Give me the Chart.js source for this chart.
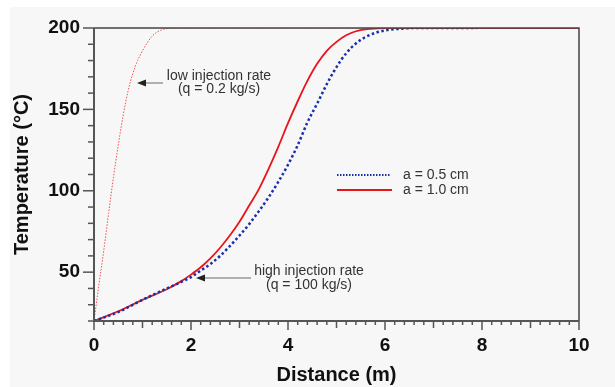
<!DOCTYPE html>
<html>
<head>
<meta charset="utf-8">
<script src="https://cdn.jsdelivr.net/npm/chart.js@4/dist/chart.umd.min.js"></script>
<style>
  html, body { margin: 0; padding: 0; background: #fff; }
  #wrap { width: 615px; height: 387px; }
</style>
</head>
<body>
<div id="wrap"><canvas id="tempChart" width="615" height="387"></canvas></div>
<script>
// temperature profiles (distance in m, temperature in °C)
let lowDist  = [0, 0.1, 0.2, 0.3, 0.4, 0.5, 0.6, 0.7, 0.8, 0.9, 1.0, 1.1, 1.2, 1.3, 1.45, 1.65, 2.0, 4.0, 6.0, 8.0, 10];
let lowTemp  = [20, 42, 63, 86, 108, 128, 146, 161, 172, 180, 186, 191, 195, 197.5, 199.3, 200, 200, 200, 200, 200, 200];

let a05Dist  = [0, 0.5, 1.0, 1.5, 1.8, 2.0, 2.2, 2.4, 2.6, 2.8, 3.0, 3.2, 3.4, 3.6, 3.8, 4.0, 4.2, 4.4, 4.6, 4.8, 5.0, 5.2, 5.4, 5.6, 5.8, 6.0, 6.3, 6.6, 7.0, 7.9];
let a05Temp  = [20, 25.5, 33, 40, 44, 47, 51, 55, 60, 66, 72.5, 79.5, 87.5, 96, 105.5, 116, 128, 142, 153.5, 165.5, 176, 184.5, 190.5, 194.5, 197, 198.5, 199.5, 200, 200, 200];

let a10Dist  = [0, 0.5, 1.0, 1.5, 1.8, 2.0, 2.2, 2.4, 2.6, 2.8, 3.0, 3.2, 3.4, 3.6, 3.8, 4.0, 4.2, 4.4, 4.6, 4.8, 5.0, 5.2, 5.4, 5.7, 6.0, 7.0, 8.0, 10];
let a10Temp  = [20, 26, 33, 39.5, 44.5, 48.5, 53, 58.5, 65, 72.5, 81, 91, 101, 113.5, 127, 141.5, 155, 167.5, 178, 186, 191.5, 195.5, 198, 199.5, 200, 200, 200, 200];

let xTickLabels = [0, 2, 4, 6, 8, 10];
let yTickLabels = [50, 100, 150, 200];

function pts(xs, ys) {
  return xs.map((x, i) => ({ x: x, y: ys[i] }));
}

const frame = {
  id: 'frame',
  beforeDraw(chart) {
    let c = chart.ctx;
    c.save();
    c.fillStyle = '#f7f7f7';
    c.fillRect(10, 7, chart.width - 10, chart.height - 7);
    c.restore();
  },
  afterDraw(chart) {
    let c = chart.ctx, a = chart.chartArea;
    let xs = chart.scales.x, ys = chart.scales.y;
    c.save();
    // frame
    c.strokeStyle = '#444';
    c.lineWidth = 1.5;
    c.beginPath();
    c.moveTo(a.left, a.top); c.lineTo(a.right, a.top); c.lineTo(a.right, a.bottom);
    c.stroke();
    c.lineWidth = 2;
    c.strokeStyle = '#555';
    c.beginPath();
    c.moveTo(a.left, a.top); c.lineTo(a.left, a.bottom); c.lineTo(a.right, a.bottom);
    c.stroke();
    // ticks
    c.lineWidth = 1.5;
    for (let v = 20; v <= 200; v += 10) {
      let y = ys.getPixelForValue(v);
      let len = v % 50 === 0 ? 11 : 6;
      c.beginPath(); c.moveTo(a.left - len, y); c.lineTo(a.left, y); c.stroke();
    }
    for (let i = 0; i <= 50; i++) {
      let v = i / 5;
      let x = xs.getPixelForValue(v);
      let len = i % 10 === 0 ? 9 : (i % 5 === 0 ? 7 : 4);
      c.beginPath(); c.moveTo(x, a.bottom); c.lineTo(x, a.bottom + len); c.stroke();
    }
    // annotations
    c.fillStyle = '#333';
    c.font = '14px "Liberation Sans", Arial, sans-serif';
    c.textAlign = 'center';
    c.textBaseline = 'middle';
    c.fillText('low injection rate', 219, 76);
    c.fillText('(q = 0.2 kg/s)', 219, 89);
    c.fillText('high injection rate', 309, 271);
    c.fillText('(q = 100 kg/s)', 309, 285);
    arrow(c, 163, 83, 137);
    arrow(c, 251, 278, 196);
    // legend
    c.lineCap = 'butt';
    c.strokeStyle = '#1a2fa8';
    c.lineWidth = 2;
    c.setLineDash([1.5, 1.5]);
    c.beginPath(); c.moveTo(337, 175); c.lineTo(390, 175); c.stroke();
    c.setLineDash([]);
    c.strokeStyle = '#e8141c';
    c.lineWidth = 1.8;
    c.beginPath(); c.moveTo(337, 190); c.lineTo(392, 190); c.stroke();
    c.textAlign = 'left';
    c.font = '14px "Liberation Sans", Arial, sans-serif';
    c.fillStyle = '#333';
    c.fillText('a = 0.5 cm', 403, 175);
    c.fillText('a = 1.0 cm', 403, 190);
    c.restore();
  }
};

function arrow(c, x0, y, x1) {
  c.save();
  c.strokeStyle = '#999';
  c.lineWidth = 1.5;
  c.beginPath(); c.moveTo(x0, y); c.lineTo(x1 + 6, y); c.stroke();
  c.fillStyle = '#222';
  c.beginPath();
  c.moveTo(x1, y); c.lineTo(x1 + 9, y - 3.5); c.lineTo(x1 + 9, y + 3.5); c.closePath();
  c.fill();
  c.restore();
}

const tickFont = { family: '"Liberation Sans", Arial, sans-serif', size: 19, weight: 'bold' };
const titleFont = { family: '"Liberation Sans", Arial, sans-serif', size: 20, weight: 'bold' };

new Chart(document.getElementById('tempChart'), {
  type: 'line',
  data: {
    datasets: [
      {
        label: 'low injection rate',
        data: pts(lowDist, lowTemp),
        borderColor: '#f25050',
        borderWidth: 1,
        borderDash: [1.5, 1.5],
        pointRadius: 0,
        cubicInterpolationMode: 'monotone'
      },
      {
        label: 'a = 0.5 cm',
        data: pts(a05Dist, a05Temp),
        borderColor: '#1a2fa8',
        borderWidth: 2.5,
        borderDash: [2.5, 2.5],
        pointRadius: 0,
        cubicInterpolationMode: 'monotone'
      },
      {
        label: 'a = 1.0 cm',
        data: pts(a10Dist, a10Temp),
        borderColor: '#e8141c',
        borderWidth: 1.8,
        pointRadius: 0,
        cubicInterpolationMode: 'monotone'
      }
    ]
  },
  options: {
    responsive: false,
    animation: false,
    layout: { padding: { left: 10, top: 28, right: 36, bottom: 0 } },
    plugins: { legend: { display: false }, tooltip: { enabled: false } },
    scales: {
      x: {
        type: 'linear',
        min: 0,
        max: 10,
        afterBuildTicks: s => { s.ticks = xTickLabels.map(v => ({ value: v })); },
        afterFit: s => { s.height = 66; },
        grid: { display: false, drawTicks: false },
        border: { display: false },
        ticks: { padding: 13, color: '#111', font: tickFont },
        title: { display: true, text: 'Distance (m)', color: '#111', font: titleFont, padding: { top: 0, bottom: 0 } }
      },
      y: {
        min: 20,
        max: 200,
        afterBuildTicks: s => { s.ticks = yTickLabels.map(v => ({ value: v })); },
        afterFit: s => { s.width = 84; },
        grid: { display: false, drawTicks: false },
        border: { display: false },
        ticks: { padding: 14, color: '#111', font: tickFont },
        title: { display: true, text: 'Temperature (°C)', color: '#111', font: titleFont, padding: { top: 0, bottom: 0 } }
      }
    }
  },
  plugins: [frame]
});
</script>
</body>
</html>
